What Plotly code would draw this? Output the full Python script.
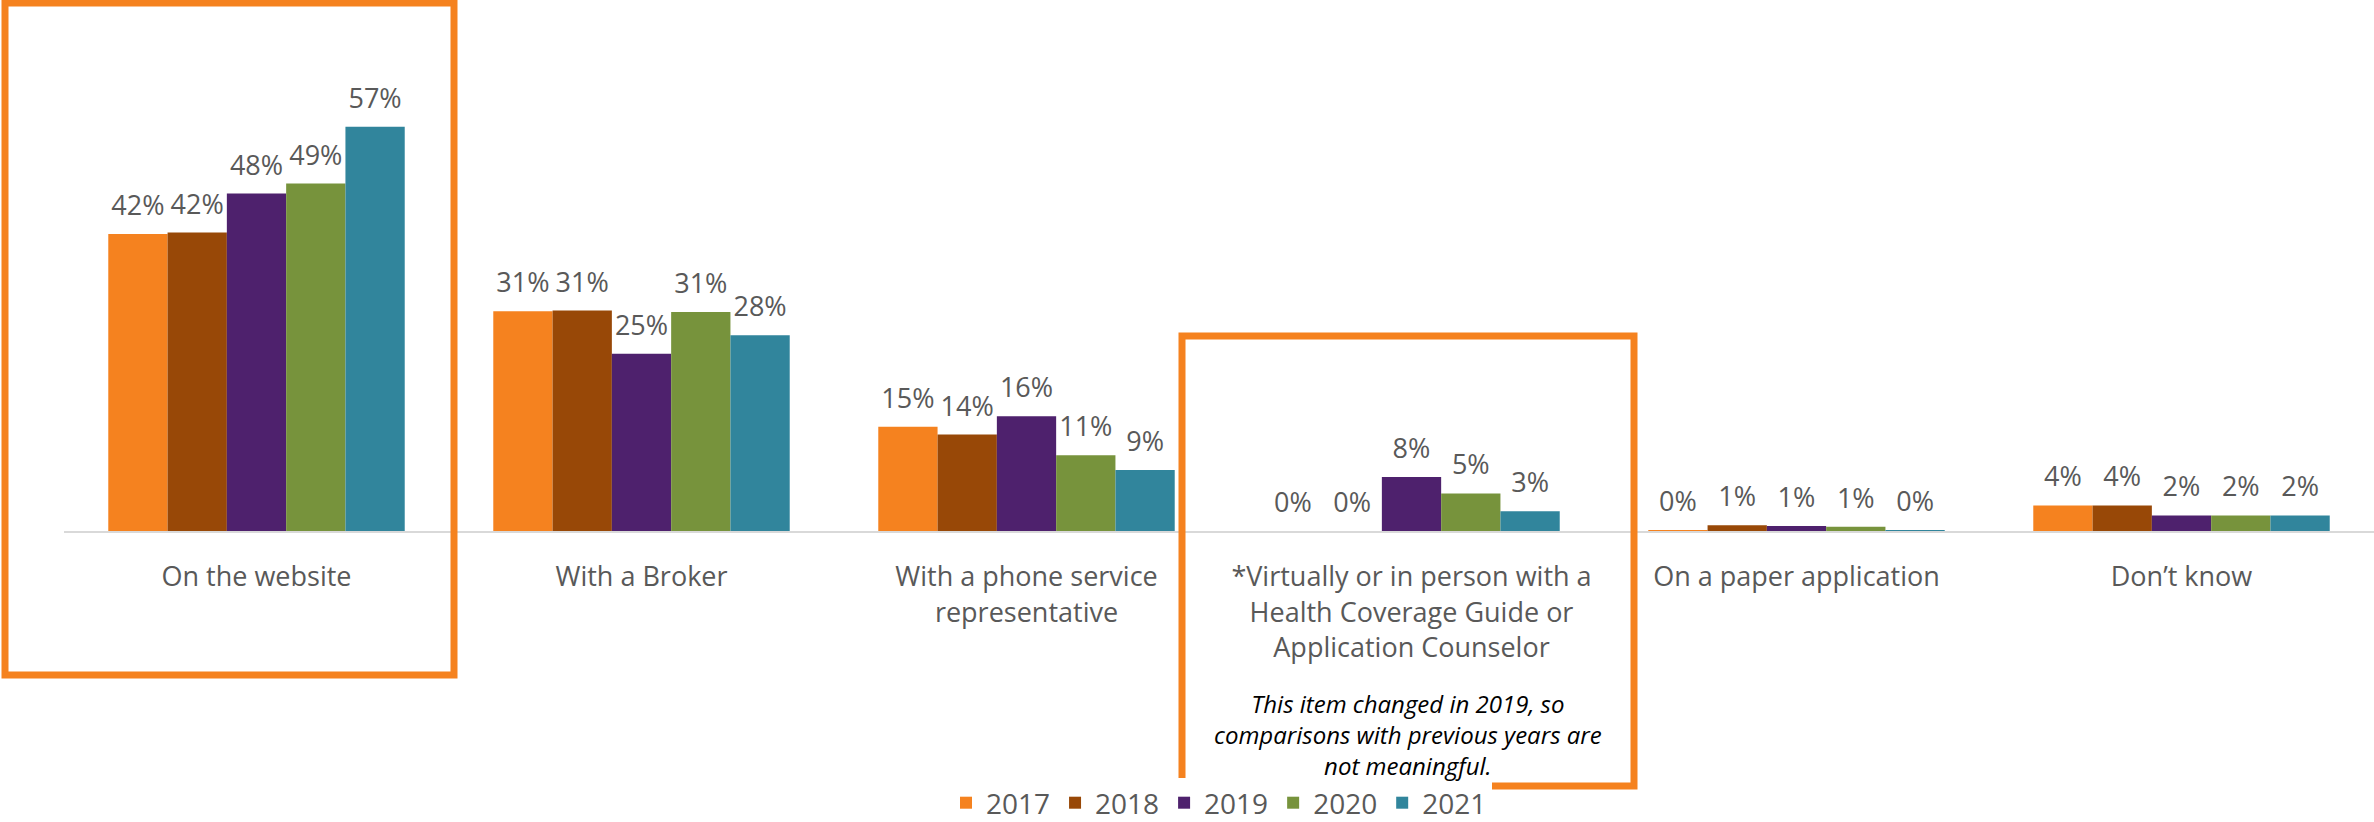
import plotly.graph_objects as go

categories = [
    "On the website",
    "With a Broker",
    "With a phone service<br>representative",
    "*Virtually or in person with a<br>Health Coverage Guide or<br>Application Counselor",
    "On a paper application",
    "Don’t know",
]
years = ["2017", "2018", "2019", "2020", "2021"]
values = {
    "2017": [41.9, 31.0, 14.7, 0.0, 0.1, 3.6],
    "2018": [42.1, 31.1, 13.6, 0.0, 0.8, 3.6],
    "2019": [47.6, 25.0, 16.2, 7.6, 0.7, 2.2],
    "2020": [49.0, 30.9, 10.7, 5.3, 0.6, 2.2],
    "2021": [57.0, 27.6, 8.6, 2.8, 0.1, 2.2],
}
colors = {
    "2017": "#F5821F",
    "2018": "#984807",
    "2019": "#4E216D",
    "2020": "#77933C",
    "2021": "#31859C",
}
note = "This item changed in 2019, so<br>comparisons with previous years are<br>not meaningful."

FONT = "Open Sans"
GRAY = "#595959"
ORANGE = "#F5821F"

W, H = 2374, 822
ML, MR, MT, MB = 64, 0, 40, 291
plot_w = W - ML - MR
plot_h = H - MT - MB
px_per_pct = 7.09
ymax = plot_h / px_per_pct
GAP = 0.23

xs = list(range(len(categories)))

fig = go.Figure()
for yr in years:
    fig.add_trace(go.Bar(
        name=yr, x=xs, y=values[yr],
        marker=dict(color=colors[yr], line=dict(width=0)),
        hoverinfo="skip",
    ))
for yr in years:
    fig.add_trace(go.Scatter(
        x=xs, y=values[yr], mode="markers+text",
        marker=dict(size=18, opacity=0, color=colors[yr]),
        texttemplate="%{y:.0f}%", textposition="top center",
        textfont=dict(family=FONT, size=27, color=GRAY),
        showlegend=False, cliponaxis=False, hoverinfo="skip",
    ))

def py(pix):
    return (H - MB - pix) / plot_h

def pxp(pix):
    return (pix - ML) / plot_w

# highlight boxes (decorations)
for (x0, x1, y0, y1) in [(5, 454, 675, 3), (1182, 1634, 786, 336)]:
    fig.add_shape(type="rect", xref="paper", yref="paper",
                  x0=pxp(x0), x1=pxp(x1), y0=py(y0), y1=py(y1),
                  line=dict(color=ORANGE, width=7), fillcolor="rgba(0,0,0,0)",
                  layer="above")

fig.add_annotation(
    x=pxp(1408), xref="paper", y=py(734), yref="paper", yanchor="middle",
    text="<i>" + note + "</i>", showarrow=False, align="center", borderpad=0,
    font=dict(family=FONT, size=24, color="#000000"),
)

fig.update_layout(
    width=W, height=H,
    margin=dict(l=ML, r=MR, t=MT, b=MB, pad=0, autoexpand=False),
    paper_bgcolor="white", plot_bgcolor="white",
    barmode="group", bargap=GAP, bargroupgap=0,
    scattermode="group", scattergap=GAP,
    showlegend=True,
    legend=dict(orientation="h", x=0.5, xanchor="center", y=py(803), yanchor="middle",
                font=dict(family=FONT, size=28, color=GRAY), traceorder="normal",
                tracegroupgap=0, borderwidth=0),
    font=dict(family=FONT, color=GRAY),
)
fig.update_xaxes(
    tickmode="array", tickvals=xs, ticktext=categories,
    range=[-0.5, len(categories) - 0.5],
    showline=True, linecolor="#D9D9D9", linewidth=2,
    showgrid=False, zeroline=False, ticks="",
    tickfont=dict(family=FONT, size=27, color=GRAY),
    ticklabelstandoff=21,
)
fig.update_yaxes(range=[0, ymax], visible=False, showgrid=False, zeroline=False)

fig.write_html("out.html")
